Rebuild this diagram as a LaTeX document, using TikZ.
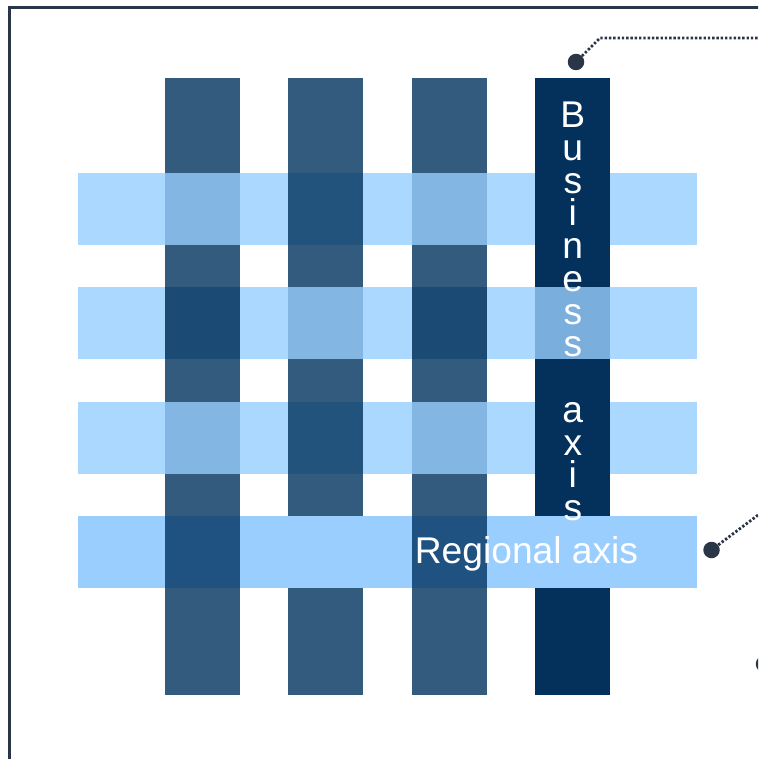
\documentclass[tikz,border=0pt]{standalone}
\usepackage{fontspec}
\setsansfont{Liberation Sans}
\definecolor{navy}{HTML}{03315C}
\definecolor{colbar}{HTML}{335B7E}
\definecolor{rowbar}{HTML}{AAD8FF}
\definecolor{rowhi}{HTML}{99CEFE}
\definecolor{hovercol}{HTML}{84B6E4}
\definecolor{hovernavy}{HTML}{7AAEDC}
\definecolor{voverrow}{HTML}{22537D}
\definecolor{voverrowB}{HTML}{1B4B75}
\definecolor{voverhi}{HTML}{1F5280}
\definecolor{leadergray}{HTML}{2B3548}

\begin{document}
\begin{tikzpicture}[x=1pt,y=-1pt,
  frame/.style={draw=leadergray,line width=2.2pt},
  axislabel/.style={text=white,inner sep=0pt,
    font=\sffamily\fontsize{37.2}{32.75}\selectfont},
  pindot/.style={circle,fill=leadergray,minimum size=16.5pt,inner sep=0pt},
  leader/.style={draw=leadergray,line width=2.8pt,dash pattern=on 2.4pt off 1.9pt}]
  \useasboundingbox (0,0) rectangle (758,759);
  \clip (0,0) rectangle (758,759);
  \draw[frame] (9.5,790) -- (9.5,7.5) -- (790,7.5);
  % regional rows, then business columns
  \foreach \y in {173,287,402}
    \fill[rowbar] (78,\y) rectangle ++(619,71.5);
  \fill[rowhi] (78,516) rectangle ++(619,71.5);
  \foreach \x in {165,288,412}
    \fill[colbar] (\x,78) rectangle ++(75,616.5);
  \fill[navy] (535,78) rectangle ++(75,616.5);
  % weave: which bar lies on top at each crossing
  \foreach \x/\y/\c in {165/173/hovercol,288/173/voverrow,412/173/hovercol,
      165/287/voverrowB,288/287/hovercol,412/287/voverrowB,535/287/hovernavy,
      165/402/hovercol,288/402/voverrow,412/402/hovercol,
      165/516/voverhi,288/516/rowhi,412/516/voverhi,535/516/rowhi}
    \fill[\c] (\x,\y) rectangle ++(75,71.5);
  \node[axislabel,align=center,anchor=north] (bizlabel) at (572.8,101.8)
    {B\\u\\s\\i\\n\\e\\s\\s\\~\\a\\x\\i\\s};
  \node[axislabel,anchor=base] (reglabel) at (526.5,563.3) {Regional axis};
  % callouts
  \node[pindot] (bizdot) at (576,62) {};
  \coordinate (bizbend) at (600,38);
  \coordinate (bizend) at (790,38);
  \draw[leader] (bizdot) -- (bizbend) -- (bizend);
  \node[pindot] (regdot) at (711.5,550) {};
  \coordinate (regend) at (790,491);
  \draw[leader] (regdot) -- (regend);
  \node[pindot] (thirddot) at (764,664) {};
\end{tikzpicture}
\end{document}
